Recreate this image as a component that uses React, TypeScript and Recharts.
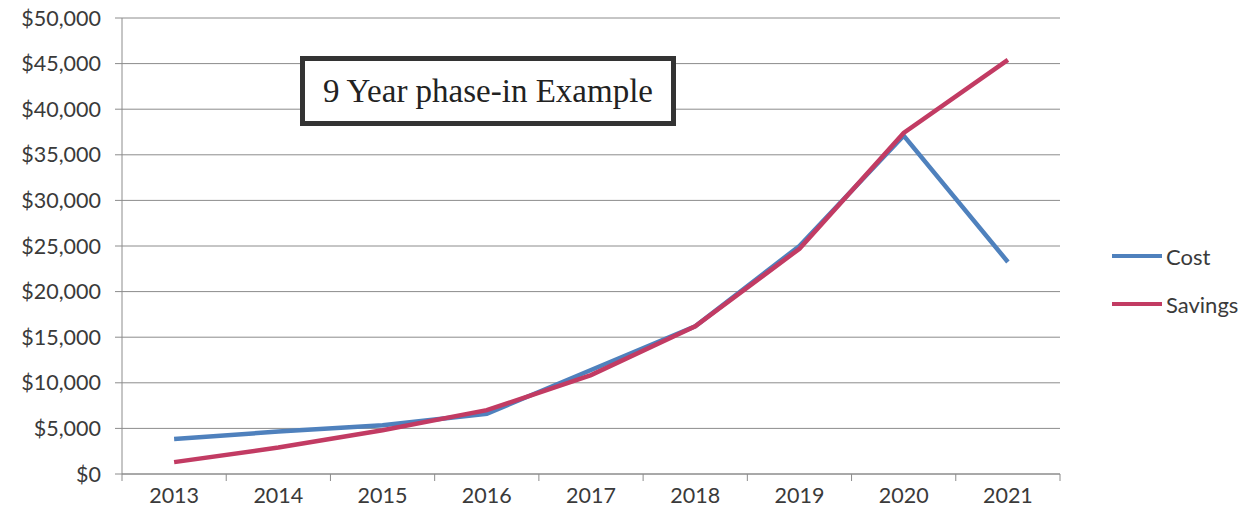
import React from "react";
import { LineChart, Line, XAxis, YAxis, CartesianGrid, Legend } from "recharts";

const years = ["2013", "2014", "2015", "2016", "2017", "2018", "2019", "2020", "2021"];
const cost = [3850, 4650, 5350, 6600, 11400, 16200, 25000, 37100, 23250];
const savings = [1300, 2900, 4800, 7000, 10850, 16200, 24700, 37400, 45400];
const yTicks = [0, 5000, 10000, 15000, 20000, 25000, 30000, 35000, 40000, 45000, 50000];

const data = years.map((y, i) => ({ year: y, pos: i + 0.5, cost: cost[i], savings: savings[i] }));
const boundaryTicks = [0, ...years.map((_, i) => i + 1)];
const labelTicks = years.map((_, i) => i + 0.5);
const xTicks = [...boundaryTicks, ...labelTicks].sort((a, b) => a - b);

const BLUE = "#4f81bd";
const RED = "#c23b63";
const AXIS = "#8c8c8c";
const TEXT = "#3a3a3a";
const FONT = "Lato, 'Open Sans', sans-serif";

const fmt = (v: number) => "$" + v.toLocaleString("en-US");

const XTick = (props: any) => {
  const { x, y, payload } = props;
  const v = payload.value as number;
  if (Number.isInteger(v)) {
    return <line x1={x} x2={x} y1={y} y2={y + 7} stroke={AXIS} strokeWidth={1} />;
  }
  return (
    <text x={x} y={y + 29} textAnchor="middle" fill={TEXT} fontSize={21.5} fontFamily={FONT}>
      {years[Math.floor(v)]}
    </text>
  );
};

const LegendContent = () => (
  <div style={{ fontFamily: FONT, fontSize: 22, color: TEXT, width: 150 }}>
    {[
      { name: "Cost", color: BLUE },
      { name: "Savings", color: RED },
    ].map((e, i) => (
      <div key={e.name} style={{ display: "flex", alignItems: "center", height: 24, marginBottom: i === 0 ? 24 : 0 }}>
        <div style={{ width: 50, height: 4, background: e.color, marginRight: 4 }} />
        <span>{e.name}</span>
      </div>
    ))}
  </div>
);

export default function App() {
  return (
    <div style={{ position: "absolute", left: 0, top: 0, width: 1256, height: 520, background: "#fff" }}>
      <LineChart width={1256} height={520} data={data} margin={{ top: 18, right: 46, bottom: 0, left: 0 }}>
        <CartesianGrid horizontal={true} vertical={false} stroke={AXIS} strokeWidth={1} />
        <XAxis
          type="number"
          dataKey="pos"
          domain={[0, 9]}
          ticks={xTicks}
          tick={<XTick />}
          tickLine={false}
          tickSize={0}
          tickMargin={0}
          stroke={AXIS}
          height={46}
          interval={0}
          allowDataOverflow
        />
        <YAxis
          domain={[0, 50000]}
          ticks={yTicks}
          tickFormatter={fmt}
          width={122}
          tickSize={7}
          tickMargin={14}
          stroke={AXIS}
          tick={{ fill: TEXT, fontSize: 21.5, fontFamily: FONT }}
          interval={0}
        />
        <Legend
          layout="vertical"
          align="right"
          verticalAlign="middle"
          content={<LegendContent />}
          wrapperStyle={{ width: 150, left: 1112, top: 244 }}
        />
        <Line type="linear" dataKey="cost" name="Cost" stroke={BLUE} strokeWidth={4.5} dot={false} isAnimationActive={false} />
        <Line type="linear" dataKey="savings" name="Savings" stroke={RED} strokeWidth={4.5} dot={false} isAnimationActive={false} />
      </LineChart>
      <div
        style={{
          position: "absolute",
          left: 300,
          top: 56,
          width: 366,
          height: 60,
          border: "5px solid #333",
          background: "#fff",
          fontFamily: "'Liberation Serif', 'Times New Roman', serif",
          fontSize: 33,
          color: "#222",
          display: "flex",
          alignItems: "center",
          justifyContent: "center",
        }}
      >
        9 Year phase-in Example
      </div>
    </div>
  );
}
